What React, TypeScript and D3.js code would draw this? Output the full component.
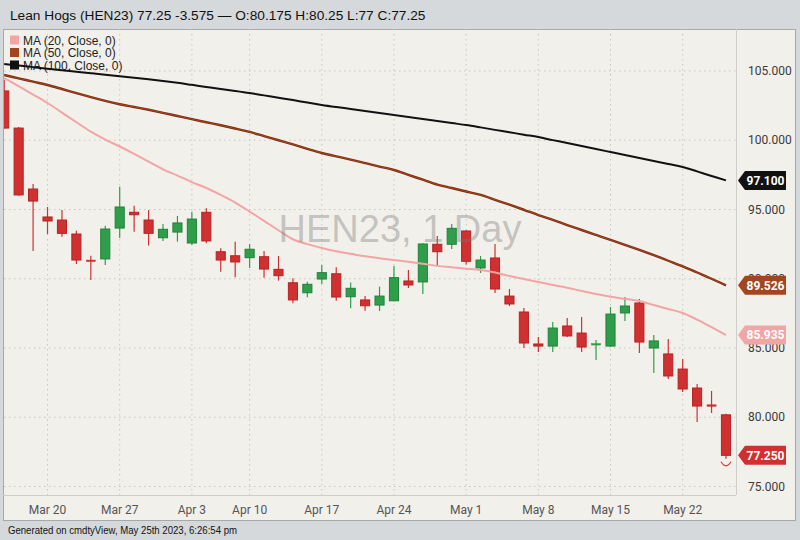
import React from 'react';
import * as d3 from 'd3';

const dates = [
  '2023-03-15','2023-03-16','2023-03-17',
  '2023-03-20','2023-03-21','2023-03-22','2023-03-23','2023-03-24',
  '2023-03-27','2023-03-28','2023-03-29','2023-03-30','2023-03-31',
  '2023-04-03','2023-04-04','2023-04-05','2023-04-06',
  '2023-04-10','2023-04-11','2023-04-12','2023-04-13','2023-04-14',
  '2023-04-17','2023-04-18','2023-04-19','2023-04-20','2023-04-21',
  '2023-04-24','2023-04-25','2023-04-26','2023-04-27','2023-04-28',
  '2023-05-01','2023-05-02','2023-05-03','2023-05-04','2023-05-05',
  '2023-05-08','2023-05-09','2023-05-10','2023-05-11','2023-05-12',
  '2023-05-15','2023-05-16','2023-05-17','2023-05-18','2023-05-19',
  '2023-05-22','2023-05-23','2023-05-24','2023-05-25',
];

const opens = [103.56,100.88,96.48,94.46,94.24,93.23,91.35,91.43,93.66,94.8,94.24,92.96,93.37,92.58,94.8,91.95,91.66,91.52,91.59,90.68,89.71,88.99,89.98,90.36,88.7,88.47,88.1,88.41,89.84,89.77,92.49,92.49,93.45,90.78,91.5,88.75,87.6,85.29,85.14,86.59,86.08,85.22,85.14,87.53,88.25,85.0,84.57,83.48,82.11,80.9,80.175];
const highs = [104.35,100.95,96.84,95.18,94.96,93.47,91.66,93.83,96.65,95.27,94.96,93.95,94.53,94.84,95.09,92.2,92.68,92.51,92.0,91.64,90.03,89.79,91.0,90.83,89.73,88.75,89.43,90.92,90.63,92.56,93.09,93.95,93.5,91.64,92.51,89.26,87.89,85.79,86.88,87.17,87.24,85.58,87.96,88.68,88.54,85.94,85.65,84.21,82.4,81.9,80.25];
const lows = [100.85,96.0,92.0,93.23,93.04,91.06,89.91,91.0,92.94,93.4,92.39,92.73,92.68,92.44,92.56,90.51,90.1,90.78,90.08,89.86,88.23,88.66,89.62,88.42,87.87,87.69,87.67,88.38,89.33,88.9,90.99,92.15,91.03,90.42,88.97,88.03,85.0,84.71,84.71,85.79,84.71,84.13,85.07,86.95,84.64,83.19,82.76,81.82,79.66,80.31,77.0];
const closes = [100.88,96.05,95.61,94.17,93.28,91.35,91.28,93.59,95.18,94.62,93.28,93.57,94.03,94.31,92.73,91.35,91.21,92.13,90.7,90.22,88.47,89.6,90.44,88.68,89.31,88.05,88.75,90.08,89.55,92.51,91.95,93.64,91.26,91.35,89.26,88.18,85.36,85.14,86.44,85.87,85.07,85.32,87.45,88.03,85.43,85.51,82.98,82.04,80.81,80.825,77.25];

const ma20 = [104.49,103.9,103.3,102.69,102.0,101.3,100.62,100.05,99.55,99.02,98.45,97.9,97.45,96.98,96.55,96.05,95.5,94.85,94.18,93.5,92.85,92.5,92.22,91.98,91.8,91.62,91.48,91.35,91.22,91.08,90.93,90.83,90.73,90.63,90.45,90.2,89.98,89.77,89.55,89.35,89.12,88.9,88.7,88.55,88.4,88.1,87.82,87.53,87.05,86.5,85.935];
const ma50 = [104.71,104.47,104.23,103.99,103.7,103.4,103.12,102.84,102.6,102.4,102.2,101.98,101.75,101.52,101.3,101.08,100.85,100.6,100.3,100.0,99.7,99.38,99.08,98.84,98.6,98.35,98.1,97.85,97.5,97.15,96.8,96.55,96.3,96.05,95.7,95.35,94.98,94.6,94.25,93.88,93.52,93.16,92.8,92.45,92.08,91.7,91.3,90.9,90.45,90.0,89.526];
const ma100 = [105.5,105.39,105.28,105.17,105.06,104.95,104.84,104.73,104.62,104.51,104.4,104.28,104.15,104.0,103.85,103.7,103.56,103.41,103.24,103.07,102.9,102.72,102.55,102.4,102.26,102.11,101.97,101.82,101.68,101.53,101.39,101.24,101.1,100.93,100.75,100.58,100.4,100.23,100.01,99.8,99.58,99.37,99.15,98.93,98.72,98.5,98.29,98.07,97.75,97.42,97.1];

const xTickDates = ['2023-03-20','2023-03-27','2023-04-03','2023-04-10','2023-04-17','2023-04-24','2023-05-01','2023-05-08','2023-05-15','2023-05-22'];
const xTickLabels = ['Mar 20','Mar 27','Apr 3','Apr 10','Apr 17','Apr 24','May 1','May 8','May 15','May 22'];
const yTicks = [75, 80, 85, 90, 95, 100, 105];

const titleText = 'Lean Hogs (HEN23) 77.25 -3.575 \u2014 O:80.175 H:80.25 L:77 C:77.25';
const legendLabels = ['MA (20, Close, 0)', 'MA (50, Close, 0)', 'MA (100, Close, 0)'];
const footerText = 'Generated on cmdtyView, May 25th 2023, 6:26:54 pm';
const watermark = 'HEN23, 1 Day';

const RED = '#d0302f';
const RED_DARK = '#b52325';
const GREEN = '#2f9e4b';
const GREEN_DARK = '#23813a';
const PINK = '#f2a5a5';
const BROWN = '#a3461f';
const BLACK = '#111111';

export default function App() {
  const W = 800, H = 540;
  const plotL = 4, plotR = 736, plotT = 29, plotB = 495;
  const x = d3.scaleBand<string>().domain(dates).range([-3, 733.2]).paddingInner(0.3).paddingOuter(0.15);
  const y = d3.scaleLinear().domain([75, 105]).range([486.5, 71]);
  const cx = (d: string) => (x(d) as number) + x.bandwidth() / 2;
  const bw = x.bandwidth();
  const fmt = d3.format('.3f');

  const line = (vals: number[]) =>
    d3.line<number>().x((_, i) => cx(dates[i])).y((v) => y(v)).curve(d3.curveCatmullRom.alpha(0.5))(vals) || '';

  const badges = [
    { v: ma100[ma100.length - 1], c: BLACK },
    { v: ma50[ma50.length - 1], c: BROWN },
    { v: ma20[ma20.length - 1], c: PINK },
    { v: closes[closes.length - 1], c: RED },
  ];

  const lastX = cx(dates[dates.length - 1]);
  const lastLowY = y(lows[lows.length - 1]);

  return (
    <svg width={W} height={H} style={{ position: 'absolute', left: 0, top: 0 }} xmlns="http://www.w3.org/2000/svg">
      <defs>
        <clipPath id="plotclip">
          <rect x={plotL} y={plotT} width={plotR - plotL} height={plotB - plotT} />
        </clipPath>
      </defs>
      <rect x={0} y={0} width={W} height={H} fill="#d6d9dc" />
      <text x={10} y={20} fontFamily="'Liberation Sans', Arial, sans-serif" fontSize={13.7} fill="#111">{titleText}</text>
      <rect x={3.5} y={29.5} width={792} height={491} fill="#f2f0eb" stroke="#a8a8a8" />
      {/* grid */}
      <g stroke="#c9c7c2" strokeDasharray="1.5,3.5" strokeWidth={1}>
        {yTicks.map((t) => (
          <line key={'h' + t} x1={plotL} x2={plotR} y1={y(t)} y2={y(t)} />
        ))}
        {xTickDates.map((d) => (
          <line key={'v' + d} x1={cx(d)} x2={cx(d)} y1={plotT} y2={plotB} />
        ))}
      </g>
      <line x1={plotR + 0.5} x2={plotR + 0.5} y1={plotT} y2={plotB} stroke="#cfcdc8" />
      <line x1={3} x2={plotR} y1={plotB + 0.5} y2={plotB + 0.5} stroke="#cfcdc8" />
      {/* legend */}
      <g fontFamily="'Liberation Sans', Arial, sans-serif" fontSize={12} fill="#222">
        {legendLabels.map((l, i) => (
          <g key={l}>
            <rect x={10} y={35.5 + i * 12.5} width={9} height={9} fill={[PINK, BROWN, BLACK][i]} />
            <text x={23} y={44.5 + i * 12.5}>{l}</text>
          </g>
        ))}
      </g>
      <g clipPath="url(#plotclip)">
        {/* candles */}
        {dates.map((d, i) => {
          const up = closes[i] >= opens[i];
          const fill = up ? GREEN : RED;
          const stroke = up ? GREEN_DARK : RED_DARK;
          const top = y(Math.max(opens[i], closes[i]));
          const bot = y(Math.min(opens[i], closes[i]));
          const h = Math.max(1.5, bot - top);
          const c = cx(d);
          return (
            <g key={d}>
              <line x1={c} x2={c} y1={y(highs[i])} y2={y(lows[i])} stroke={fill} strokeWidth={1.2} />
              <rect x={c - bw / 2 + 0.5} y={top} width={bw - 1} height={h} fill={fill} stroke={h > 2 ? stroke : fill} strokeWidth={h > 2 ? 1 : 0.5} />
            </g>
          );
        })}
        <path d={`M${lastX - 5},${lastLowY + 3} Q${lastX},${lastLowY + 11} ${lastX + 5},${lastLowY + 3}`} fill="none" stroke={RED} strokeWidth={1.2} />
        {/* MA lines */}
        <path d={line(ma20)} fill="none" stroke={PINK} strokeWidth={2} />
        <path d={line(ma50)} fill="none" stroke="#7a2a0e" strokeWidth={2.4} />
        <path d={line(ma50)} fill="none" stroke={BROWN} strokeWidth={1} />
        <path d={line(ma100)} fill="none" stroke={BLACK} strokeWidth={2} />
      </g>
      {/* watermark */}
      <text x={400} y={242} textAnchor="middle" fontFamily="'Liberation Sans', Arial, sans-serif" fontSize={38} fill="rgba(120,120,120,0.4)">{watermark}</text>
      {/* y axis labels */}
      <g fontFamily="Roboto, 'Noto Sans', sans-serif" fontSize={12} fill="#3a3a3a">
        {yTicks.map((t) => (
          <text key={t} x={748} y={y(t)} dy="0.35em">{fmt(t)}</text>
        ))}
      </g>
      {/* badges */}
      {badges.map((b) => {
        const by = y(b.v);
        return (
          <g key={b.c}>
            <path d={`M738,${by} L745,${by - 9.5} L786,${by - 9.5} L786,${by + 9.5} L745,${by + 9.5} Z`} fill={b.c} />
            <text x={765.5} y={by} dy="0.36em" textAnchor="middle" fontFamily="Roboto, 'Noto Sans', sans-serif" fontWeight="bold" fontSize={12} fill="#fff">{fmt(b.v)}</text>
          </g>
        );
      })}
      {/* x axis labels */}
      <g fontFamily="Roboto, 'Noto Sans', sans-serif" fontSize={12} fill="#555" textAnchor="middle">
        {xTickDates.map((d, i) => (
          <text key={d} x={cx(d)} y={514}>{xTickLabels[i]}</text>
        ))}
      </g>
      <text x={8} y={534} fontFamily="'Liberation Sans', Arial, sans-serif" fontSize={10} fill="#111" textLength={229} lengthAdjust="spacingAndGlyphs">{footerText}</text>
    </svg>
  );
}
